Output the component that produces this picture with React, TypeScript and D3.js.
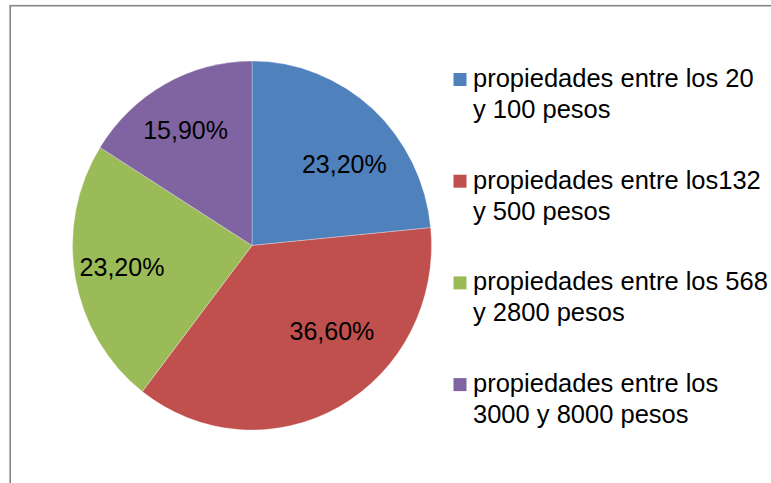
import React from "react";
import * as d3 from "d3";

const categories: string[][] = [
  ["propiedades entre los 20", "y 100 pesos"],
  ["propiedades entre los132", "y 500 pesos"],
  ["propiedades entre los 568", "y 2800 pesos"],
  ["propiedades entre los", "3000 y 8000 pesos"],
];
const values: number[] = [23.2, 36.6, 23.2, 15.9];
const valueLabels: string[] = ["23,20%", "36,60%", "23,20%", "15,90%"];
const colors: string[] = ["#4F81BD", "#C0504D", "#9BBB59", "#8064A2"];
// label nudges (pixels) relative to the slice centroid, emulating Excel best-fit
const labelNudge: [number, number][] = [
  [5, 17.5],
  [17, -31.5],
  [-2, -2],
  [-3.5, 1.5],
];

export default function App() {
  const W = 771;
  const H = 483;
  const cx = 252;
  const cy = 245.5;
  const r = 179.5;
  const sy = 184.5 / 179.5;

  const pie = d3.pie<number>().sort(null).startAngle(0).endAngle(2 * Math.PI);
  const arcs = pie(values);
  const arcGen = d3.arc<d3.PieArcDatum<number>>().innerRadius(0).outerRadius(r);
  const labelR = 130;

  const font = "'Liberation Sans', Arial, sans-serif";
  const legendTop = 73;
  const legendStep = 101.7;

  return (
    <svg
      width={W}
      height={H}
      style={{ position: "absolute", left: 0, top: 0, display: "block" }}
    >
      <rect x={0} y={0} width={W} height={H} fill="#fff" />
      <rect
        x={10.2}
        y={5.7}
        width={W + 20}
        height={H + 20}
        fill="none"
        stroke="#868686"
        strokeWidth={1.6}
      />
      <g transform={`translate(${cx},${cy}) scale(1,${sy})`}>
        {arcs.map((a, i) => (
          <path
            key={i}
            d={arcGen(a) || ""}
            fill={colors[i]}
            stroke="#ffffff"
            strokeOpacity={0.5}
            strokeWidth={0.6}
            vectorEffect="non-scaling-stroke"
          />
        ))}
      </g>
      {arcs.map((a, i) => {
        const mid = (a.startAngle + a.endAngle) / 2;
        const x = cx + Math.sin(mid) * labelR + labelNudge[i][0];
        const y = cy - Math.cos(mid) * labelR * sy + labelNudge[i][1];
        return (
          <text
            key={i}
            x={x}
            y={y + 9}
            textAnchor="middle"
            fontFamily={font}
            fontSize={25}
            fill="#000"
          >
            {valueLabels[i]}
          </text>
        );
      })}
      {categories.map((lines, i) => {
        const top = legendTop + i * legendStep;
        return (
          <g key={i}>
            <rect x={453.5} y={top} width={13} height={13} fill={colors[i]} />
            {lines.map((ln, j) => (
              <text
                key={j}
                x={473}
                y={top + 14 + j * 31}
                fontFamily={font}
                fontSize={25.5}
                fill="#000"
              >
                {ln}
              </text>
            ))}
          </g>
        );
      })}
    </svg>
  );
}
